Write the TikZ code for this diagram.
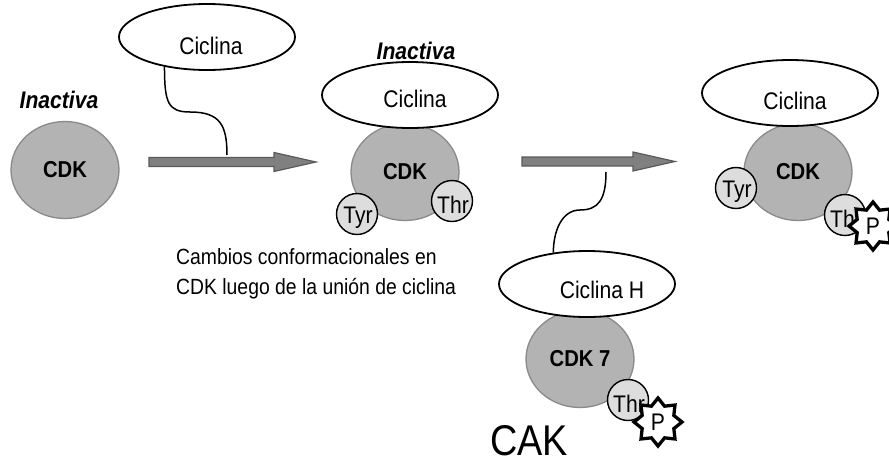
\documentclass[tikz,border=0pt]{standalone}
\usepackage{fontspec}
\setmainfont{Liberation Sans}[FakeStretch=0.88]
\usetikzlibrary{shapes.geometric,calc}

\definecolor{cdkfill}{HTML}{B3B3B3}
\definecolor{cdkline}{HTML}{8A8A8A}
\definecolor{resfill}{HTML}{DDDDDD}
\definecolor{arrfill}{HTML}{808080}
\definecolor{arrline}{HTML}{5A5A5A}
\newcommand{\fsz}[1]{\fontsize{#1}{#1}\selectfont}

\tikzset{
	every node/.style={font=\fsz{24}},
	cdk/.style={ellipse, draw=cdkline, fill=cdkfill, line width=1.3pt, minimum width=108, minimum height=97, inner sep=0, font=\fsz{23}\bfseries},
	cyc/.style={ellipse, draw, fill=white, line width=1.8pt, minimum width=176, minimum height=66, inner sep=0},
	res/.style={circle, draw, fill=resfill, line width=1.4pt, minimum size=41, inner sep=0,
		path picture={\node at ([xshift=1,yshift=-4]path picture bounding box.center) {#1};}},
	phos/.style={star, star points=8, star point ratio=1.4, draw, fill=white, line width=3.3pt, minimum size=48, inner sep=0, font=\fsz{24}},
	act/.style={font=\fsz{24}\bfseries\itshape},
	tether/.style={line width=1.5pt},
	blockarr/.style={draw=arrline, fill=arrfill, line width=1.2pt, line join=miter,
		to path={($(\tikztostart)+(0,-4.5)$) -- ($(\tikztotarget)+(-42,-4.5)$) -- ($(\tikztotarget)+(-42,-9.5)$) -- (\tikztotarget)
			-- ($(\tikztotarget)+(-42,9.5)$) -- ($(\tikztotarget)+(-42,4.5)$) -- ($(\tikztostart)+(0,4.5)$) -- cycle}}
}

\begin{document}
\begin{tikzpicture}[x=1pt,y=-1pt]
	\useasboundingbox (0,0) rectangle (889,466);
	% CDK alone
	\node[act] (inA) at (59,100) {Inactiva};
	\node[cdk] (cdkA) at (65,170) {CDK};
	% free ciclina and first step
	\node[cyc] (cycA) at (207,37) {};
	\node (cycAt) at (211,46) {Ciclina};
	\coordinate (t1) at (149,162);
	\coordinate (h1) at (316,162);
	\coordinate (k1) at (190,112);
	\coordinate (j1) at (227,155);
	\draw[blockarr] (t1) to (h1);
	\draw[tether] (cycA.215) .. controls +(0,36) and +(-22,0) .. (k1) .. controls +(30,0) and +(0,-30) .. (j1);
	% inactive complex
	\node[cdk] (cdkB) at (405,172) {CDK};
	\node[cyc] (cycB) at (410,95) {};
	\node (cycBt) at (415,99) {Ciclina};
	\node[act] (inB) at (416,51) {Inactiva};
	\node[res=Tyr] (tyrB) at (357,214) {};
	\node[res=Thr] (thrB) at (452,201) {};
	% second step, CAK
	\coordinate (t2) at (522,161.5);
	\coordinate (h2) at (675,161.5);
	\coordinate (j2) at (606,172);
	\coordinate (k2) at (580,210);
	\draw[blockarr] (t2) to (h2);
	\node[cdk] (cdkD) at (580,359) {CDK 7};
	\node[cyc] (cycD) at (587,284) {};
	\node (cycDt) at (602,289.5) {Ciclina H};
	\draw[tether] (j2) .. controls +(0,28) and +(18,0) .. (k2) .. controls +(-18,0) and +(0,-22) .. (cycD.137);
	\node[res=Thr] (thrD) at (628,400) {};
	\node[phos] (pD) at (658,422) {P};
	\node[font=\fsz{43}] (cak) at (529,441) {CAK};
	% active complex
	\node[cdk] (cdkC) at (798,172) {CDK};
	\node[cyc] (cycC) at (790,93) {};
	\node (cycCt) at (795,100.5) {Ciclina};
	\node[res=Tyr] (tyrC) at (736,188) {};
	\node[res=Thr] (thrC) at (845,215) {};
	\node[phos] (pC) at (873,226) {P};
	% note
	\node[align=left, anchor=north west, inner sep=0, font=\fontsize{22}{30}\selectfont] (note) at (176,248)
		{Cambios conformacionales en\\CDK luego de la unión de ciclina};
\end{tikzpicture}
\end{document}
